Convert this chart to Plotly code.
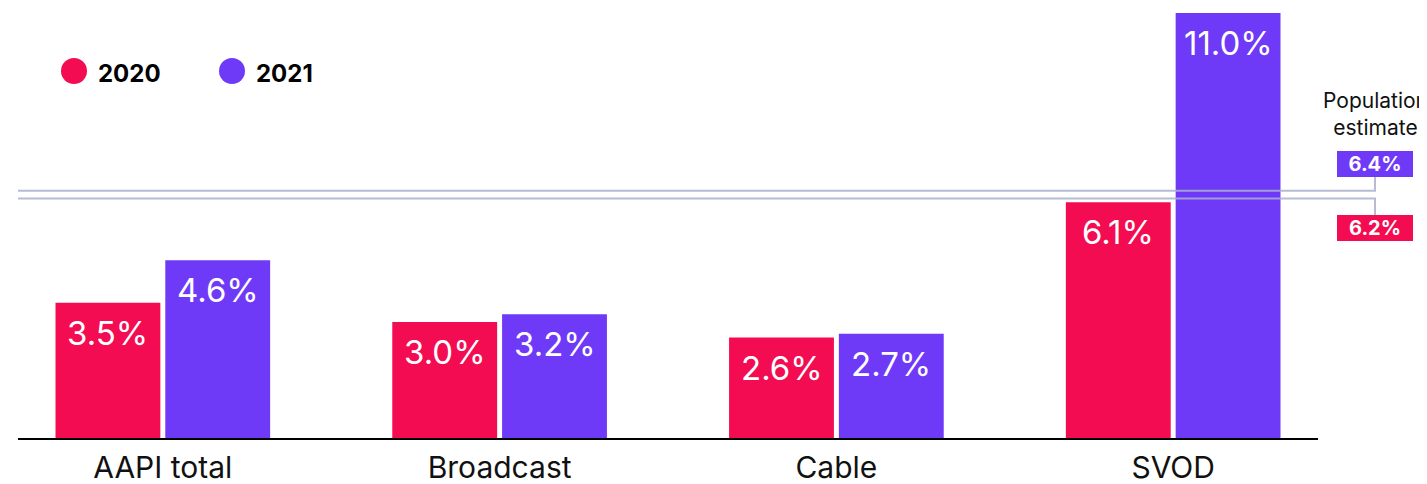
import plotly.graph_objects as go

categories = ["AAPI total", "Broadcast", "Cable", "SVOD"]
values_2020 = [3.5, 3.0, 2.6, 6.1]
values_2021 = [4.6, 3.2, 2.7, 11.0]
series_names = ["2020", "2021"]
population_estimate = {"2021": 6.4, "2020": 6.2}

RED = "#F30C51"
PURPLE = "#6F39F8"
LINE = "rgba(170,176,204,0.85)"
FONT = "Inter, 'Noto Sans', sans-serif"

OFF = 8  # page body margin
W, H = 1427, 484
# page coordinates of plot area
P_LEFT, P_RIGHT, P_TOP, P_BASE = 18, 1318, 10, 438
ML = P_LEFT - OFF
MR = W - (P_RIGHT - OFF)
MT = P_TOP - OFF
MB = H - (P_BASE - OFF)
plot_w = P_RIGHT - P_LEFT
plot_h = P_BASE - P_TOP
PX_PER = 38.64
ymax = plot_h / PX_PER

def pxx(px):
    return (px - P_LEFT) / plot_w

def pxy(py):
    return (P_BASE - py) / plot_h

BARGAP = 0.348
fig = go.Figure()
annotations = []
half = (1 - BARGAP) / 4
for k, (name, vals, col) in enumerate([(series_names[0], values_2020, RED),
                                        (series_names[1], values_2021, PURPLE)]):
    fig.add_trace(go.Bar(
        x=categories, y=vals, name=name, marker=dict(color=col, line=dict(width=0)),
        showlegend=False, hoverinfo="x+y",
    ))
    sign = -1 if k == 0 else 1
    for i, v in enumerate(vals):
        annotations.append(dict(
            x=i + sign * half, y=v, xref="x", yref="y", text=f"{v:.1f}%",
            showarrow=False, xanchor="center", yanchor="top", yshift=-8,
            font=dict(color="white", size=33, family=FONT),
        ))

shapes = []
xturn = pxx(1375)
p21 = population_estimate["2021"]
p20 = population_estimate["2020"]
box21_bottom = (P_BASE - 177) / PX_PER
box20_top = (P_BASE - 215) / PX_PER
shapes.append(dict(type="path", xref="paper", yref="y", layer="above",
                   path=f"M 0,{p21} L {xturn},{p21} L {xturn},{box21_bottom}",
                   line=dict(color=LINE, width=2)))
shapes.append(dict(type="path", xref="paper", yref="y", layer="above",
                   path=f"M 0,{p20} L {xturn},{p20} L {xturn},{box20_top}",
                   line=dict(color=LINE, width=2)))

for val, col, ycen in [(p21, PURPLE, 164), (p20, RED, 228)]:
    annotations.append(dict(
        x=pxx(1375), y=pxy(ycen), xref="paper", yref="paper",
        text=f"<b>{val:.1f}%</b>", showarrow=False, xanchor="center", yanchor="middle",
        font=dict(color="white", size=20, family=FONT),
        bgcolor=col, bordercolor=col, borderwidth=1, borderpad=3, width=68, height=18,
    ))

annotations.append(dict(
    x=pxx(1375), y=pxy(114), xref="paper", yref="paper",
    text="Population<br>estimate", showarrow=False, xanchor="center", yanchor="middle",
    font=dict(color="#111111", size=21, family=FONT), align="center",
))

# legend
for name, col, cx, tx in [(series_names[0], RED, 74, 96), (series_names[1], PURPLE, 232, 254)]:
    shapes.append(dict(type="circle", xref="paper", yref="paper",
                       xsizemode="pixel", ysizemode="pixel",
                       xanchor=pxx(cx), yanchor=pxy(71),
                       x0=-13, x1=13, y0=-13, y1=13,
                       fillcolor=col, line=dict(width=0)))
    annotations.append(dict(
        x=pxx(tx), y=pxy(73), xref="paper", yref="paper",
        text=f"<b>{name}</b>", showarrow=False, xanchor="left", yanchor="middle",
        font=dict(color="#000000", size=24, family=FONT),
    ))

fig.update_layout(
    width=W, height=H,
    margin=dict(l=ML, r=MR, t=MT, b=MB),
    paper_bgcolor="white", plot_bgcolor="white",
    barmode="group", bargap=BARGAP, bargroupgap=0.045,
    shapes=shapes, annotations=annotations,
    font=dict(family=FONT, color="#111111"),
    xaxis=dict(range=[-0.43, 3.43], showline=True, linecolor="#000000", linewidth=2,
               ticks="", tickfont=dict(size=30, color="#111111", family=FONT),
               ticklabelstandoff=2,
               showgrid=False, zeroline=False),
    yaxis=dict(range=[0, ymax], visible=False, showgrid=False, zeroline=False),
)

fig.write_html("out.html")
